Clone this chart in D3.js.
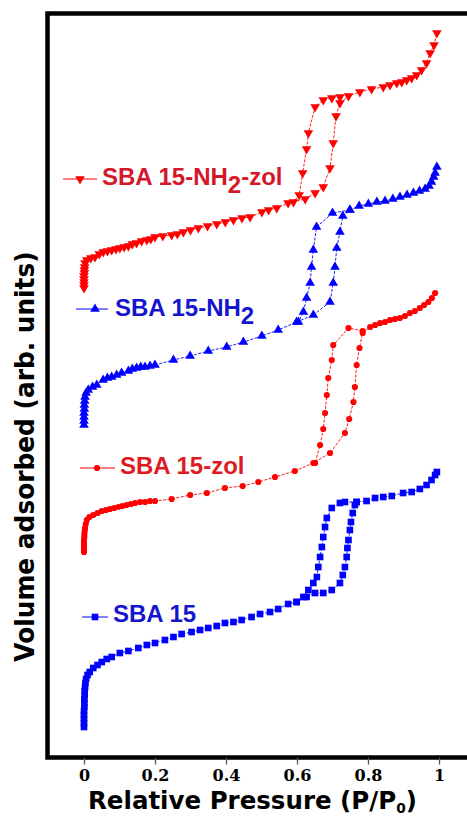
<!DOCTYPE html>
<html>
<head>
<meta charset="utf-8">
<script src="https://cdn.jsdelivr.net/npm/d3@7"></script>
<style>
  html, body { margin: 0; padding: 0; background: #fff; overflow: hidden; }
  svg { display: block; }
</style>
</head>
<body>
<svg id="chart" width="467" height="816"></svg>
<script>
// N2 sorption isotherms, [P/P0, volume adsorbed (arb. units, curves offset)]
const sba15Ads = [
  [0.000,30],[0.000,34],[0.000,38],[0.000,42],[0.000,46],[0.001,50],[0.001,54],[0.001,58],
  [0.002,62],[0.002,66],[0.003,70],[0.004,74],[0.006,78],[0.010,82],[0.016,85],[0.026,89],
  [0.038,92],[0.050,95],[0.064,98],[0.078,100],[0.101,104],[0.125,106],[0.153,109],[0.177,112],
  [0.200,114],[0.228,117],[0.252,120],[0.275,123],[0.303,125],[0.327,127],[0.350,129],[0.374,131],
  [0.397,134],[0.421,135],[0.444,137],[0.472,140],[0.496,143],[0.524,145],[0.547,148],[0.575,153],
  [0.599,155],[0.627,160],[0.651,164],[0.674,164],[0.698,167],[0.721,174],[0.729,182],[0.735,190],
  [0.740,200],[0.742,209],[0.745,217],[0.749,227],[0.752,235],[0.757,244],[0.763,252],[0.768,255],
  [0.796,256],[0.820,259],[0.843,260],[0.867,261],[0.899,264],[0.923,265],[0.946,268],[0.965,272],
  [0.979,277],[0.989,282],[0.994,285]
];
const sba15Des = [
  [0.768,255],[0.735,255],[0.721,254],[0.698,249],[0.684,239],[0.679,230],[0.674,220],[0.670,210],
  [0.665,200],[0.660,190],[0.656,180],[0.646,174],[0.632,167],[0.618,160],[0.599,155]
];

const sba15ZolAds = [
  [0.000,205],[0.000,208],[0.000,211],[0.000,214],[0.000,217],[0.001,220],[0.001,223],[0.002,226],
  [0.003,229],[0.005,233],[0.008,237],[0.015,240],[0.026,242],[0.038,244],[0.050,246],[0.062,247],
  [0.073,248],[0.085,249],[0.097,250],[0.108,251],[0.120,252],[0.132,253],[0.144,254],[0.158,255],
  [0.172,255],[0.186,256],[0.200,256],[0.247,258],[0.299,262],[0.346,264],[0.397,269],[0.447,271],
  [0.491,275],[0.538,280],[0.594,286],[0.646,294],[0.693,304],[0.735,324],[0.747,338],[0.759,355],
  [0.763,370],[0.768,392],[0.776,409],[0.785,424],[0.806,430],[0.820,432],[0.834,434],[0.848,435],
  [0.862,437],[0.876,438],[0.890,439],[0.904,441],[0.918,444],[0.932,446],[0.946,449],[0.958,452],
  [0.970,455],[0.980,459],[0.989,464]
];
const sba15ZolDes = [
  [0.785,426],[0.745,429],[0.702,412],[0.698,397],[0.688,379],[0.684,362],[0.679,344],[0.674,328],
  [0.665,312],[0.651,294]
];

const sba15NH2Ads = [
  [0.000,332],[0.000,336],[0.000,340],[0.000,344],[0.001,348],[0.001,352],[0.002,356],[0.003,360],
  [0.006,364],[0.012,367],[0.024,370],[0.036,372],[0.054,377],[0.066,379],[0.078,380],[0.092,382],
  [0.106,384],[0.125,386],[0.136,388],[0.148,389],[0.160,390],[0.172,390],[0.186,391],[0.200,392],
  [0.252,397],[0.299,401],[0.350,406],[0.402,410],[0.449,415],[0.501,421],[0.547,427],[0.599,435],
  [0.646,442],[0.693,455],[0.702,474],[0.707,490],[0.712,509],[0.721,525],[0.729,541],[0.749,547],
  [0.775,551],[0.801,553],[0.825,555],[0.848,556],[0.870,558],[0.890,560],[0.910,562],[0.928,564],
  [0.945,566],[0.961,568],[0.972,571],[0.979,575],[0.985,580],[0.989,584],[0.994,590]
];
const sba15NH2Des = [
  [0.749,547],[0.700,544],[0.655,530],[0.646,507],[0.641,490],[0.637,474],[0.627,459],[0.618,445],
  [0.604,435]
];

const sba15NH2ZolAds = [
  [0.000,469],[0.000,472],[0.000,475],[0.000,478],[0.000,481],[0.001,484],[0.001,487],[0.002,490],
  [0.003,494],[0.008,497],[0.019,499],[0.031,500],[0.043,503],[0.054,505],[0.066,506],[0.078,507],
  [0.090,508],[0.101,509],[0.113,510],[0.125,511],[0.136,513],[0.148,514],[0.162,516],[0.177,517],
  [0.188,518],[0.200,520],[0.222,521],[0.247,522],[0.263,523],[0.280,525],[0.300,527],[0.322,529],
  [0.348,531],[0.374,533],[0.398,535],[0.421,537],[0.445,539],[0.468,540],[0.501,545],[0.520,547],
  [0.543,549],[0.575,554],[0.623,558],[0.651,564],[0.674,570],[0.693,589],[0.702,614],[0.710,641],
  [0.721,654],[0.745,661],[0.777,665],[0.810,668],[0.843,670],[0.862,672],[0.881,674],[0.895,675],
  [0.909,677],[0.923,679],[0.937,682],[0.951,687],[0.965,694],[0.975,704],[0.986,712],[0.994,724]
];
const sba15NH2ZolDes = [
  [0.721,660],[0.698,659],[0.674,657],[0.651,650],[0.632,624],[0.627,608],[0.616,584],[0.606,562],
  [0.590,555]
];

const seriesNames = ["SBA 15", "SBA 15-zol", "SBA 15-NH2", "SBA 15-NH2-zol"];
const xTicks = [0, 0.2, 0.4, 0.6, 0.8, 1];
const xTickLabels = ["0", "0.2", "0.4", "0.6", "0.8", "1"];

const RED = "#ff0000", BLUE = "#0000ff";

const series = [
  { name: seriesNames[0], ads: sba15Ads, des: sba15Des, color: BLUE, text: "#1515cf",
    symbol: d3.symbolSquare, size: 44, rot: 0,
    legend: { x1: 82, x2: 108, y: 617, mx: 95, tx: 113, ty: 622 } },
  { name: seriesNames[1], ads: sba15ZolAds, des: sba15ZolDes, color: RED, text: "#de1a22",
    symbol: d3.symbolCircle, size: 30, rot: 0,
    legend: { x1: 80, x2: 115, y: 468, mx: 97, tx: 120, ty: 474 } },
  { name: seriesNames[2], ads: sba15NH2Ads, des: sba15NH2Des, color: BLUE, text: "#1515cf",
    symbol: d3.symbolTriangle, size: 40, rot: 0,
    legend: { x1: 76, x2: 108, y: 309, mx: 95, tx: 115, ty: 316 } },
  { name: seriesNames[3], ads: sba15NH2ZolAds, des: sba15NH2ZolDes, color: RED, text: "#d4182a",
    symbol: d3.symbolTriangle, size: 40, rot: 180,
    legend: { x1: 63, x2: 97, y: 179, mx: 80, tx: 102, ty: 185 } }
];

const svg = d3.select("#chart");
const frame = { left: 47.5, top: 13.5, bottom: 757.5, right: 476 };

const x = d3.scaleLinear().domain([0, 1]).range([84, 439]);
const y = d3.scaleLinear().domain([0, 744]).range([757, 13]);

// plot frame (open to the right edge of the page)
svg.append("rect")
  .attr("x", frame.left).attr("y", frame.top)
  .attr("width", frame.right - frame.left).attr("height", frame.bottom - frame.top)
  .attr("fill", "none").attr("stroke", "#000").attr("stroke-width", 4.5);

// x axis ticks and labels
const xAxis = d3.axisBottom(x)
  .tickValues(xTicks)
  .tickFormat((d, i) => xTickLabels[i])
  .tickSize(7).tickSizeOuter(0);
const gx = svg.append("g").attr("transform", `translate(0,${frame.bottom})`).call(xAxis);
gx.select(".domain").remove();
gx.selectAll(".tick line").attr("stroke", "#555").attr("stroke-width", 1.3);
gx.selectAll(".tick text")
  .attr("y", 23).attr("dy", 0)
  .attr("fill", "#000")
  .style("font-family", "'DejaVu Serif', serif")
  .style("font-weight", "bold")
  .style("font-size", "16px");

// axis titles (slightly condensed heavy type)
const xt = svg.append("text")
  .attr("transform", "translate(88,809) scale(0.98,1)")
  .style("font-family", "'DejaVu Sans', sans-serif")
  .style("font-weight", "bold")
  .style("font-size", "25px")
  .attr("fill", "#000");
xt.append("tspan").text("Relative Pressure (P/P");
xt.append("tspan").attr("dy", 4).style("font-size", "14px").text("0");
xt.append("tspan").attr("dy", -4).text(")");

svg.append("text")
  .attr("transform", "translate(34,456.5) rotate(-90) scale(0.92,1)")
  .attr("text-anchor", "middle")
  .style("font-family", "'DejaVu Sans', sans-serif")
  .style("font-weight", "bold")
  .style("font-size", "27px")
  .attr("fill", "#000")
  .text("Volume adsorbed (arb. units)");

const line = d3.line().x(d => x(d[0])).y(d => y(d[1]));

series.forEach(s => {
  const g = svg.append("g");
  const sym = d3.symbol().type(s.symbol).size(s.size);
  [s.ads, s.des].forEach(branch => {
    g.append("path").datum(branch)
      .attr("d", line)
      .attr("fill", "none")
      .attr("stroke", s.color)
      .attr("stroke-width", 0.9)
      .attr("stroke-dasharray", "3,1.5");
  });
  g.selectAll("path.pt").data(s.ads.concat(s.des)).join("path")
    .attr("class", "pt")
    .attr("d", sym)
    .attr("transform", d => `translate(${x(d[0])},${y(d[1])}) rotate(${s.rot})`)
    .attr("fill", s.color);

  // legend entry
  const L = s.legend;
  svg.append("line")
    .attr("x1", L.x1).attr("x2", L.x2).attr("y1", L.y).attr("y2", L.y)
    .attr("stroke", s.color).attr("stroke-width", 1);
  svg.append("path")
    .attr("d", sym)
    .attr("transform", `translate(${L.mx},${L.y}) rotate(${s.rot})`)
    .attr("fill", s.color);
  const t = svg.append("text")
    .attr("x", L.tx).attr("y", L.ty)
    .attr("fill", s.text)
    .style("font-family", "'Liberation Sans', Arial, sans-serif")
    .style("font-weight", "bold")
    .style("font-size", "24px");
  const parts = s.name.split("NH2");
  if (parts.length === 1) {
    t.text(s.name);
  } else {
    t.append("tspan").text(parts[0] + "NH");
    t.append("tspan").attr("dy", 8).text("2");
    if (parts[1]) t.append("tspan").attr("dy", -8).text(parts[1]);
  }
});
</script>
</body>
</html>
